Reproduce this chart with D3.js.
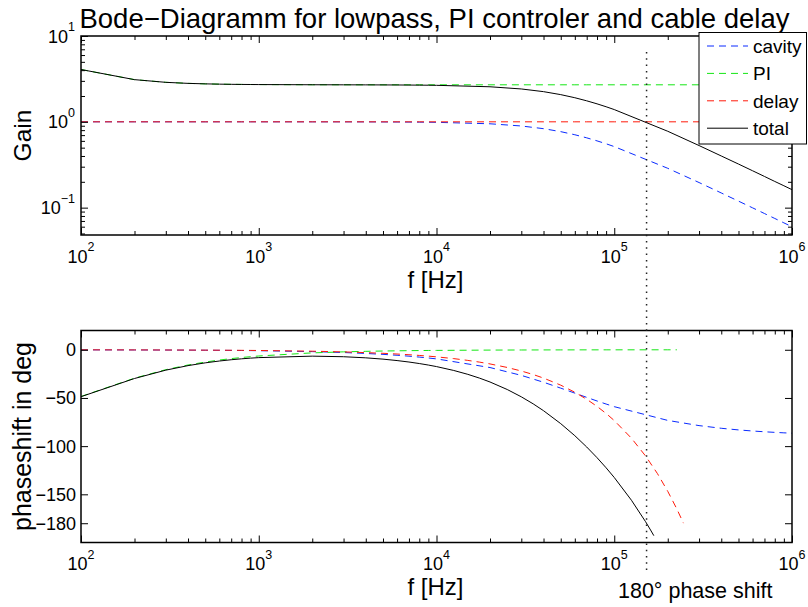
<!DOCTYPE html>
<html>
<head>
<meta charset="utf-8">
<script src="https://cdn.jsdelivr.net/npm/d3@7"></script>
<style>
  body { margin: 0; background: #fff; }
  svg text { font-family: "Liberation Sans", Arial, Helvetica, sans-serif; fill: #000; }
</style>
</head>
<body>
<svg id="chart" width="808" height="607"></svg>
<script>
// ---- data -------------------------------------------------------------
// frequency grid (Hz), 1..9 x 10^k
const freqs = [100,200,300,400,500,600,700,800,900,
  1e3,2e3,3e3,4e3,5e3,6e3,7e3,8e3,9e3,
  1e4,2e4,3e4,4e4,5e4,6e4,7e4,8e4,9e4,
  1e5,2e5,3e5,4e5,5e5,6e5,7e5,8e5,9e5,
  1e6];

// magnitude
const gainCavity = [1,1,1,1,1,1,1,1,1,
  0.9999,0.9994,0.9988,0.9978,0.9965,0.995,0.9933,0.9912,0.989,
  0.9864,0.9487,0.8944,0.8321,0.7682,0.7071,0.6508,0.6,0.5547,
  0.5145,0.2873,0.1961,0.1483,0.1191,0.0995,0.0854,0.0748,0.0665,
  0.0599];
const gainPI = [4.07,3.10,2.885,2.806,2.768,2.748,2.735,2.727,2.721,
  2.717,2.704,2.702,2.701,2.70,2.70,2.70,2.70,2.70,
  2.70,2.70,2.70,2.70,2.70,2.70,2.70,2.70,2.70,
  2.70,2.70,2.70,2.70,2.70,2.70,2.70,2.70,2.70,
  2.70];
const gainDelay = [1,1,1,1,1,1,1,1,1,
  1,1,1,1,1,1,1,1,1,
  1,1,1,1,1,1,1,1,1,
  1,1,1,1,1,1,1,1,1,
  1];
const gainTotal = [4.07,3.10,2.885,2.806,2.768,2.748,2.735,2.727,2.721,
  2.717,2.703,2.699,2.695,2.691,2.687,2.682,2.676,2.670,
  2.663,2.561,2.415,2.247,2.074,1.909,1.757,1.62,1.498,
  1.389,0.776,0.529,0.400,0.322,0.269,0.231,0.202,0.180,
  0.162];

// phase (deg)
const phaseCavity = [-0.1,-0.19,-0.29,-0.38,-0.48,-0.57,-0.67,-0.76,-0.86,
  -0.95,-1.91,-2.86,-3.81,-4.76,-5.71,-6.65,-7.59,-8.53,
  -9.46,-18.43,-26.57,-33.69,-39.81,-45.0,-49.4,-53.13,-56.31,
  -59.04,-73.3,-78.69,-81.47,-83.16,-84.29,-85.1,-85.71,-86.19,
  -86.57];

const lowFreqs = freqs.slice(0, 28);              // 100 Hz .. 100 kHz
const phaseFreqPI = lowFreqs.concat([2e5, 2.25e5]);
const phasePI = [-48.5,-29.47,-20.64,-15.78,-12.73,-10.66,-9.17,-8.04,-7.16,
  -6.45,-3.23,-2.16,-1.62,-1.29,-1.08,-0.92,-0.81,-0.72,
  -0.65,-0.32,-0.22,-0.16,-0.13,-0.11,-0.09,-0.08,-0.07,
  -0.06,-0.03,-0.03];

// denser grid above 10 kHz for the fast-falling delay and total phase
const phaseFreqDelay = [100,200,300,400,500,600,700,800,900,
  1e3,2e3,3e3,4e3,5e3,6e3,7e3,8e3,9e3,
  1e4,1.25e4,1.5e4,1.75e4,2e4,2.5e4,3e4,3.5e4,4e4,5e4,6e4,7e4,8e4,9e4,
  1e5,1.25e5,1.5e5,1.75e5,2e5,2.25e5,2.45e5];
const phaseDelay = [-0.07,-0.15,-0.22,-0.29,-0.37,-0.44,-0.51,-0.59,-0.66,
  -0.73,-1.47,-2.2,-2.94,-3.67,-4.41,-5.14,-5.88,-6.61,
  -7.34,-9.18,-11.02,-12.85,-14.69,-18.36,-22.03,-25.7,-29.38,-36.72,-44.06,-51.41,-58.75,-66.1,
  -73.44,-91.8,-110.2,-128.5,-146.9,-165.2,-179.9];

const phaseFreqTotal = [100,200,300,400,500,600,700,800,900,
  1e3,2e3,3e3,4e3,5e3,6e3,7e3,8e3,9e3,
  1e4,1.25e4,1.5e4,1.75e4,2e4,2.5e4,3e4,3.5e4,4e4,5e4,6e4,7e4,8e4,9e4,
  1e5,1.25e5,1.5e5,1.6e5,1.67e5];
const phaseTotal = [-48.67,-29.81,-21.15,-16.45,-13.58,-11.67,-10.35,-9.39,-8.68,
  -8.14,-6.61,-7.22,-8.37,-9.72,-11.2,-12.71,-14.28,-15.86,
  -17.45,-21.47,-25.49,-29.48,-33.44,-41.24,-48.82,-56.14,-63.23,-76.66,-89.17,-100.9,-111.96,-122.48,
  -132.54,-156.2,-178.4,-187.0,-192.9];

const seriesNames = ["cavity", "PI", "delay", "total"];
const seriesColors = ["#0a2bff", "#14e614", "#ff1a0a", "#000000"];
const seriesDashed = [true, true, true, false];

const xMajorTicks = [1e2, 1e3, 1e4, 1e5, 1e6];
const gainMajorTicks = [0.1, 1, 10];
const phaseTicks = [0, -50, -100, -150, -180];
const phaseTickLabels = ["0", "\u221250", "\u2212100", "\u2212150", "\u2212180"];
const fPhaseShift180 = 1.52e5;   // frequency where the loop reaches -180 deg

// ---- layout -----------------------------------------------------------
const svg = d3.select("#chart");
const left = 81, right = 792;
const gTop = 36, gBot = 235;
const pTop = 330.5, pBot = 542.5;

const x = d3.scaleLog().domain([1e2, 1e6]).range([left, right]);
const yGain = d3.scaleLog().domain([0.048, 10]).range([gBot, gTop]);
const yPhase = d3.scaleLinear().domain([-200, 20]).range([pBot, pTop]);

const xMinor = [];
for (let k = 2; k < 6; k++) for (let m = 2; m < 10; m++) xMinor.push(m * Math.pow(10, k));
const gainMinor = [];
for (let k = -2; k < 1; k++) for (let m = 2; m < 10; m++) {
  const v = m * Math.pow(10, k);
  if (v >= 0.048 && v <= 10) gainMinor.push(v);
}

function tickGroup(axis, tr) {
  const g = svg.append("g").attr("transform", tr).call(axis);
  g.select(".domain").remove();
  g.selectAll("text").remove();
  g.selectAll("line").attr("stroke", "#000").attr("stroke-width", 1);
  return g;
}

function frame(y, top, bot, yMajor, yMinor) {
  const major = 7, minor = 4;
  tickGroup(d3.axisBottom(x).tickValues(xMajorTicks).tickSize(-major).tickFormat(""), `translate(0,${bot})`);
  tickGroup(d3.axisBottom(x).tickValues(xMinor).tickSize(-minor).tickFormat(""), `translate(0,${bot})`);
  tickGroup(d3.axisTop(x).tickValues(xMajorTicks).tickSize(-major).tickFormat(""), `translate(0,${top})`);
  tickGroup(d3.axisTop(x).tickValues(xMinor).tickSize(-minor).tickFormat(""), `translate(0,${top})`);
  tickGroup(d3.axisLeft(y).tickValues(yMajor).tickSize(-major).tickFormat(""), `translate(${left},0)`);
  tickGroup(d3.axisRight(y).tickValues(yMajor).tickSize(-major).tickFormat(""), `translate(${right},0)`);
  if (yMinor.length) {
    tickGroup(d3.axisLeft(y).tickValues(yMinor).tickSize(-minor).tickFormat(""), `translate(${left},0)`);
    tickGroup(d3.axisRight(y).tickValues(yMinor).tickSize(-minor).tickFormat(""), `translate(${right},0)`);
  }
}

function powerLabel(xPos, yPos, exp, anchor) {
  const t = svg.append("text").attr("x", xPos).attr("y", yPos)
    .attr("text-anchor", anchor).style("font-size", "18px");
  t.append("tspan").text("10");
  t.append("tspan").attr("dy", -11.5).style("font-size", "12.5px").text(exp);
}

function xLabels(bot) {
  xMajorTicks.forEach(v => powerLabel(x(v), bot + 27.5, Math.round(Math.log10(v)), "middle"));
}

// clip paths
svg.append("clipPath").attr("id", "clipGain").append("rect")
  .attr("x", left).attr("y", gTop).attr("width", right - left).attr("height", gBot - gTop);
svg.append("clipPath").attr("id", "clipPhase").append("rect")
  .attr("x", left).attr("y", pTop).attr("width", right - left).attr("height", pBot - pTop);

function drawSeries(clip, y, fs, vals, i) {
  const line = d3.line().x(d => x(d[0])).y(d => y(d[1]));
  svg.append("path")
    .attr("clip-path", `url(#${clip})`)
    .attr("d", line(d3.zip(fs, vals)))
    .attr("fill", "none")
    .attr("stroke", seriesColors[i])
    .attr("stroke-width", 1)
    .attr("stroke-dasharray", seriesDashed[i] ? "7,5" : null);
}

// ---- gain panel -------------------------------------------------------
const gainSeries = [gainCavity, gainPI, gainDelay, gainTotal];
gainSeries.forEach((vals, i) => drawSeries("clipGain", yGain, freqs, vals, i));
frame(yGain, gTop, gBot, gainMajorTicks, gainMinor);
svg.append("rect").attr("x", left).attr("y", gTop).attr("width", right - left).attr("height", gBot - gTop)
  .attr("fill", "none").attr("stroke", "#000").attr("stroke-width", 1.5);
xLabels(gBot);
gainMajorTicks.forEach(v => powerLabel(left - 6, yGain(v) + 6.6, Math.round(Math.log10(v)) < 0 ? "\u22121" : String(Math.round(Math.log10(v))), "end"));

// ---- phase panel ------------------------------------------------------
drawSeries("clipPhase", yPhase, freqs, phaseCavity, 0);
drawSeries("clipPhase", yPhase, phaseFreqPI, phasePI, 1);
drawSeries("clipPhase", yPhase, phaseFreqDelay, phaseDelay, 2);
drawSeries("clipPhase", yPhase, phaseFreqTotal, phaseTotal, 3);
frame(yPhase, pTop, pBot, phaseTicks, []);
svg.append("rect").attr("x", left).attr("y", pTop).attr("width", right - left).attr("height", pBot - pTop)
  .attr("fill", "none").attr("stroke", "#000").attr("stroke-width", 1.5);
xLabels(pBot);
phaseTicks.forEach((v, i) => svg.append("text")
  .attr("x", left - 5).attr("y", yPhase(v) + 6.5)
  .attr("text-anchor", "end").style("font-size", "18px").text(phaseTickLabels[i]));

// ---- -180 deg marker --------------------------------------------------
svg.append("line")
  .attr("x1", x(fPhaseShift180)).attr("x2", x(fPhaseShift180))
  .attr("y1", 52).attr("y2", 571)
  .attr("stroke", "#222").attr("stroke-width", 1.5).attr("stroke-dasharray", "1.5,4.8");
svg.append("text").attr("x", 618).attr("y", 598).style("font-size", "21.5px")
  .text("180\u00b0 phase shift");

// ---- titles and axis labels -------------------------------------------
svg.append("text").attr("x", (left + right) / 2 - 2).attr("y", 28).attr("text-anchor", "middle")
  .style("font-size", "27.5px").text("Bode\u2212Diagramm for lowpass, PI controler and cable delay");
svg.append("text").attr("transform", `translate(31,${(gTop + gBot) / 2}) rotate(-90)`)
  .attr("text-anchor", "middle").style("font-size", "24.5px").text("Gain");
svg.append("text").attr("transform", `translate(31,${(pTop + pBot) / 2}) rotate(-90)`)
  .attr("text-anchor", "middle").style("font-size", "25px").text("phaseshift in deg");
svg.append("text").attr("x", (left + right) / 2 - 1).attr("y", gBot + 53).attr("text-anchor", "middle")
  .style("font-size", "24px").text("f [Hz]");
svg.append("text").attr("x", (left + right) / 2 - 1).attr("y", pBot + 52).attr("text-anchor", "middle")
  .style("font-size", "24px").text("f [Hz]");

// ---- legend -----------------------------------------------------------
const lg = svg.append("g");
lg.append("rect").attr("x", 699).attr("y", 32.5).attr("width", 107.5).attr("height", 111.5)
  .attr("fill", "#fff").attr("stroke", "#000").attr("stroke-width", 1);
seriesNames.forEach((name, i) => {
  const cy = 46 + i * 27.4;
  lg.append("line").attr("x1", 707).attr("x2", 748).attr("y1", cy).attr("y2", cy)
    .attr("stroke", seriesColors[i]).attr("stroke-width", 1)
    .attr("stroke-dasharray", seriesDashed[i] ? "7,5" : null);
  lg.append("text").attr("x", 753).attr("y", cy + 6.8).style("font-size", "19px").text(name);
});
</script>
</body>
</html>
